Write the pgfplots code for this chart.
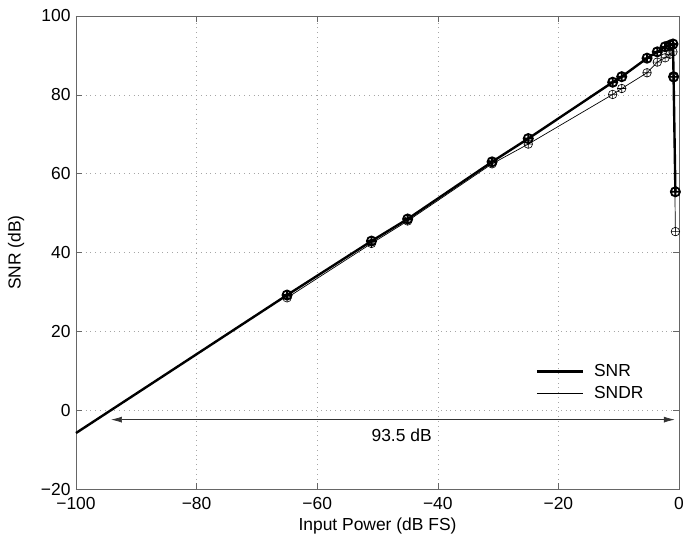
\documentclass[border=0pt]{standalone}
\usepackage{pgfplots}
\pgfplotsset{compat=1.18}
\usepackage{fontspec}
\setmainfont{Liberation Sans}
\usetikzlibrary{arrows.meta}
\begin{document}
\begin{tikzpicture}
\useasboundingbox (-76bp,-50bp) rectangle (621bp,489bp);
\begin{axis}[
  at={(0,0)}, anchor=south west,
  scale only axis, width=603bp, height=473bp,
  xmin=-100, xmax=0, ymin=-20, ymax=100,
  xtick={-100,-80,-60,-40,-20,0},
  xticklabels={−100,−80,−60,−40,−20,0},
  ytick={-20,0,20,40,60,80,100},
  yticklabels={−20,0,20,40,60,80,100},
  tick align=inside,
  major tick length=6bp,
  major tick style={gray!80!black, line width=0.6bp},
  axis line style={gray!80!black, line width=0.8bp},
  grid=major,
  major grid style={gray!70, line width=0.6bp, dash pattern=on 0.8bp off 4bp},
  tick label style={font=\fontsize{17.5}{20}\selectfont, black},
  xticklabel style={yshift=-5bp},
  yticklabel style={xshift=-2bp},
  xlabel={Input Power (dB FS)},
  ylabel={SNR (dB)},
  label style={font=\fontsize{17.5}{20}\selectfont},
  xlabel style={at={(axis description cs:0.5,0)}, anchor=center, yshift=-37bp},
  ylabel style={at={(axis description cs:-0.0995,0.5)}, anchor=center},
  legend style={draw=none, fill=none, at={(0.757,0.272)}, anchor=north west,
    font=\fontsize{17.5}{20}\selectfont, row sep=4bp},
  legend cell align=left,
  legend image code/.code={\draw[#1] (0bp,0bp) -- (46bp,0bp); \path (54bp,0bp);},
  clip=false,
]
\addplot[black, line width=2.4bp, forget plot] coordinates {(-100,-5.8) (-65,29.2)};
\addplot[black, line width=2.4bp, mark=oplus, mark size=4.6bp,
  mark options={solid, line width=1.8bp}, forget plot] coordinates {
(-65,29.2) (-51,42.9) (-45,48.5) (-31,63.0) (-25,68.9) (-11,83.2) (-9.5,84.6)
(-5.3,89.3) (-3.6,90.9) (-2.3,92.2) (-1.5,92.6) (-1.0,92.9) (-0.9,84.6) (-0.6,55.4)};
\addplot[black, line width=0.7bp, mark=oplus, mark size=4.3bp,
  mark options={solid, line width=0.6bp}, forget plot] coordinates {
(-65,28.5) (-51,42.3) (-45,48.0) (-31,62.5) (-25,67.5) (-11,80.1) (-9.5,81.6)
(-5.3,85.6) (-3.6,88.3) (-2.3,89.4) (-1.5,90.3) (-1.0,90.9) (-0.9,84.3) (-0.6,45.3)};
\addlegendimage{black, line width=2.4bp}
\addlegendentry{SNR}
\addlegendimage{black, line width=0.7bp}
\addlegendentry{SNDR}
\draw[black!80, line width=0.7bp, {Latex[length=11bp,width=6bp]}-{Latex[length=11bp,width=6bp]}]
  (axis cs:-94.2,-2.4) -- (axis cs:-0.7,-2.4);
\node[font=\fontsize{17.5}{20}\selectfont] at (axis cs:-46,-6.4) {93.5 dB};
\end{axis}
\end{tikzpicture}
\end{document}
